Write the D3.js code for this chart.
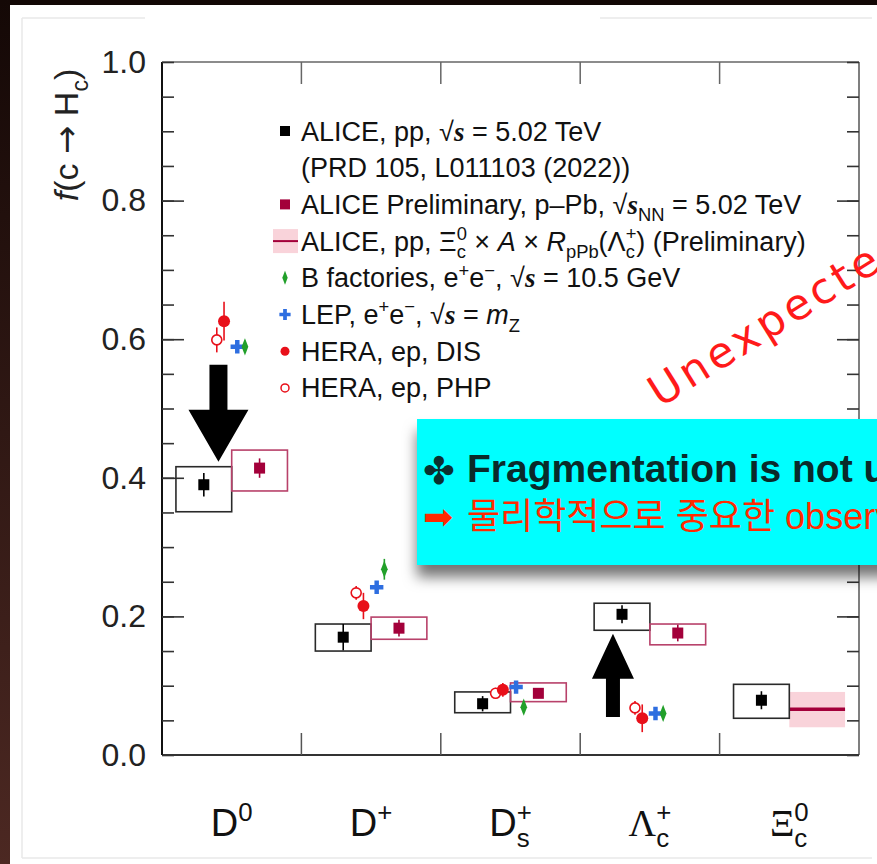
<!DOCTYPE html>
<html>
<head>
<meta charset="utf-8">
<script src="https://cdn.jsdelivr.net/npm/d3@7"></script>
<style>
  html, body { margin: 0; padding: 0; background: #fff; overflow: hidden; }
  svg { display: block; }
</style>
</head>
<body>
<svg id="chart" width="877" height="864"></svg>
<script>
// ---- data: charm fragmentation fractions f(c -> Hc) ----
const categories = ["D0", "D+", "Ds+", "Λc+", "Ξc0"];
const catBase = ["D", "D", "D", "Λ", "Ξ"];
const catSup  = ["0", "+", "+", "+", "0"];
const catSub  = ["", "", "s", "c", "c"];

// ALICE, pp, √s = 5.02 TeV
const alicePP       = [0.390, 0.170, 0.074, 0.203, 0.079];
const alicePPStat   = [0.017, 0.019, 0.011, 0.013, 0.013];
const alicePPSystLo = [0.351, 0.150, 0.061, 0.180, 0.053];
const alicePPSystHi = [0.416, 0.189, 0.091, 0.219, 0.102];

// ALICE Preliminary, p–Pb, √sNN = 5.02 TeV
const pPbCats     = ["D0", "D+", "Ds+", "Λc+"];
const alicePPb       = [0.414, 0.183, 0.089, 0.176];
const alicePPbStat   = [0.014, 0.012, 0.007, 0.012];
const alicePPbSystLo = [0.381, 0.167, 0.077, 0.159];
const alicePPbSystHi = [0.440, 0.199, 0.104, 0.189];

// ALICE, pp, Ξc0 × A × RpPb(Λc+) (Preliminary)
const xiScaledCats = ["Ξc0"];
const xiScaled     = [0.066];
const xiScaledLo   = [0.040];
const xiScaledHi   = [0.091];

// e+e- and ep measurements
const otherCats  = ["D0", "D+", "Ds+", "Λc+"];
const heraDIS    = [0.626, 0.215, 0.094, 0.053];
const heraDISErr = [0.028, 0.019, 0.010, 0.020];
const heraPHP    = [0.599, 0.234, 0.089, 0.068];
const heraPHPErr = [0.018, 0.010, 0.008, 0.010];
const lep        = [0.589, 0.242, 0.098, 0.060];
const lepErr     = [0.008, 0.008, 0.007, 0.005];
const bFact      = [0.589, 0.268, 0.069, 0.060];
const bFactErr   = [0.009, 0.015, 0.008, 0.004];

// annotation arrows (category, from, to)
const arrowCats = ["D0", "Λc+"];
const arrowFrom = [0.563, 0.055];
const arrowTo   = [0.423, 0.175];

const yTicks = [0.0, 0.2, 0.4, 0.6, 0.8, 1.0];
const yMinorTicks = d3.range(0, 1.0001, 0.05);

// ---- layout ----
const W = 877, H = 864;
const svg = d3.select("#chart");
const FONT = "'Liberation Sans', Arial, Helvetica, sans-serif";
const SERIF = "'Liberation Serif', 'Times New Roman', serif";

const x = d3.scaleBand().domain(categories).range([162, 859]);
const y = d3.scaleLinear().domain([0, 1]).range([755, 62]);
const bw = x.bandwidth();
const cx = c => x(c) + bw / 2;

const defs = svg.append("defs");
const edgeGrad = defs.append("linearGradient").attr("id", "edge")
  .attr("x1", 0).attr("y1", 0).attr("x2", 0).attr("y2", 1);
edgeGrad.append("stop").attr("offset", "0%").attr("stop-color", "#140806");
edgeGrad.append("stop").attr("offset", "100%").attr("stop-color", "#4c2822");

const shadow = defs.append("filter").attr("id", "boxShadow")
  .attr("x", "-20%").attr("y", "-20%").attr("width", "140%").attr("height", "160%");
shadow.append("feDropShadow").attr("dx", 0).attr("dy", 12)
  .attr("stdDeviation", 7).attr("flood-color", "#000").attr("flood-opacity", 0.55);

// slide background and its frame
svg.append("rect").attr("width", W).attr("height", H).attr("fill", "#fff");
svg.append("rect").attr("x", 0).attr("y", 0).attr("width", W).attr("height", 5).attr("fill", "#120705");
svg.append("rect").attr("x", 0).attr("y", 0).attr("width", 10).attr("height", H).attr("fill", "url(#edge)");
const faint = svg.append("g").attr("stroke", "#e9e9e9").attr("stroke-width", 1.5).attr("fill", "none");
faint.append("line").attr("x1", 22).attr("y1", 18).attr("x2", 22).attr("y2", 858);
faint.append("line").attr("x1", 22).attr("y1", 858).attr("x2", 872).attr("y2", 858);
faint.append("line").attr("x1", 22).attr("y1", 18).attr("x2", 145).attr("y2", 18);
faint.append("line").attr("x1", 600).attr("y1", 18).attr("x2", 872).attr("y2", 18);

// ---- rich text helper (sub/superscripts, italics) ----
function rich(sel, parts, size) {
  let shift = 0, pendingDx = 0;
  const small = size * 0.68;
  const subT = size * 0.28, supT = -size * 0.40;
  parts.forEach(p => {
    const k = p[0];
    if (k === "subsup") {
      const a = sel.append("tspan").attr("font-size", small).attr("dy", subT - shift).text(p[1]);
      if (pendingDx) a.attr("dx", pendingDx);
      const wa = a.node().getComputedTextLength();
      const b = sel.append("tspan").attr("font-size", small).attr("dx", -wa).attr("dy", supT - subT).text(p[2]);
      const wb = b.node().getComputedTextLength();
      pendingDx = Math.max(0, wa - wb);
      shift = supT;
      return;
    }
    const t = sel.append("tspan").text(p[1]);
    let target = 0;
    if (k === "sub") { target = subT; t.attr("font-size", small); }
    else if (k === "sup") { target = supT; t.attr("font-size", small); }
    else if (k === "i") { t.attr("font-style", "italic"); }
    else if (k === "si") { t.attr("font-style", "italic").attr("font-weight", "bold").attr("font-family", SERIF); }
    else if (k === "serif") { t.attr("font-family", SERIF); }
    else if (k === "sym") { t.attr("font-family", "'DejaVu Sans', sans-serif"); }
    if (target - shift !== 0) t.attr("dy", target - shift);
    if (pendingDx) { t.attr("dx", pendingDx); pendingDx = 0; }
    shift = target;
  });
}

// ---- plot frame and ticks ----
const plot = svg.append("g");
const frame = plot.append("g").attr("fill", "none");
frame.append("line").attr("x1", 162).attr("y1", y(1)).attr("x2", 859).attr("y2", y(1)).attr("stroke", "#666").attr("stroke-width", 1.5);
frame.append("line").attr("x1", 859).attr("y1", y(1)).attr("x2", 859).attr("y2", y(0)).attr("stroke", "#555").attr("stroke-width", 1.5);
frame.append("line").attr("x1", 162).attr("y1", y(0)).attr("x2", 859).attr("y2", y(0)).attr("stroke", "#333").attr("stroke-width", 1.8);
frame.append("line").attr("x1", 162).attr("y1", y(1)).attr("x2", 162).attr("y2", y(0)).attr("stroke", "#111").attr("stroke-width", 2);

// left axis: minor ticks, then labelled major ticks
const leftMinor = plot.append("g").attr("transform", "translate(162,0)")
  .call(d3.axisLeft(y).tickValues(yMinorTicks).tickSize(-12).tickFormat(""));
const leftMajor = plot.append("g").attr("transform", "translate(162,0)")
  .call(d3.axisLeft(y).tickValues(yTicks).tickSize(-22).tickPadding(16).tickFormat(d3.format(".1f")));
const rightMinor = plot.append("g").attr("transform", "translate(859,0)")
  .call(d3.axisRight(y).tickValues(yMinorTicks).tickSize(-12).tickFormat(""));
const rightMajor = plot.append("g").attr("transform", "translate(859,0)")
  .call(d3.axisRight(y).tickValues(yTicks).tickSize(-22).tickFormat(""));
[leftMinor, leftMajor, rightMinor, rightMajor].forEach(g => {
  g.select(".domain").remove();
  g.selectAll(".tick line").attr("stroke", "#333").attr("stroke-width", 1.6);
});
leftMajor.selectAll(".tick text")
  .attr("font-family", FONT).attr("font-size", 32).attr("fill", "#222");
leftMajor.selectAll(".tick").filter(d => d === 0 || d === 1).select("line").remove();
rightMajor.selectAll(".tick").filter(d => d === 0 || d === 1).select("line").remove();

// category boundary ticks on top and bottom
const bounds = categories.slice(1).map(c => x(c));
plot.append("g").selectAll("line").data(bounds).join("line")
  .attr("x1", d => d).attr("x2", d => d).attr("y1", y(1)).attr("y2", y(1) + 22)
  .attr("stroke", "#666").attr("stroke-width", 1.5);
plot.append("g").selectAll("line").data(bounds).join("line")
  .attr("x1", d => d).attr("x2", d => d).attr("y1", y(0)).attr("y2", y(0) - 22)
  .attr("stroke", "#555").attr("stroke-width", 1.5);

// y axis title
const yTitle = svg.append("text")
  .attr("transform", "translate(78,135) rotate(-90)")
  .attr("text-anchor", "middle").attr("font-family", FONT).attr("font-size", 34).attr("fill", "#222");
rich(yTitle, [["i", "f"], ["n", "(c "], ["sym", "\u2192"], ["n", " H"], ["sub", "c"], ["n", ")"]], 34);

// category labels
categories.forEach((c, i) => {
  const g = svg.append("g");
  const t = g.append("text").attr("x", 0).attr("y", 836)
    .attr("font-family", FONT).attr("font-size", 38).attr("fill", "#111");
  const parts = [[i >= 3 ? "serif" : "n", catBase[i]]];
  if (catSub[i]) parts.push(["subsup", catSub[i], catSup[i]]);
  else parts.push(["sup", catSup[i]]);
  rich(t, parts, 38);
  const bb = t.node().getBBox();
  g.attr("transform", `translate(${cx(c) - bb.width / 2},0)`);
});

// ---- systematic boxes ----
const marks = svg.append("g");
// Ξc0 × A × RpPb band
xiScaledCats.forEach((c, i) => {
  marks.append("rect")
    .attr("x", cx(c)).attr("width", bw * 0.4)
    .attr("y", y(xiScaledHi[i])).attr("height", y(xiScaledLo[i]) - y(xiScaledHi[i]))
    .attr("fill", "#f9d3da");
  marks.append("line")
    .attr("x1", cx(c)).attr("x2", cx(c) + bw * 0.4)
    .attr("y1", y(xiScaled[i])).attr("y2", y(xiScaled[i]))
    .attr("stroke", "#a3003a").attr("stroke-width", 3.5);
});
// pp boxes
categories.forEach((c, i) => {
  marks.append("rect")
    .attr("x", cx(c) - bw * 0.4).attr("width", bw * 0.4)
    .attr("y", y(alicePPSystHi[i])).attr("height", y(alicePPSystLo[i]) - y(alicePPSystHi[i]))
    .attr("fill", "none").attr("stroke", "#2a2a2a").attr("stroke-width", 1.6);
});
// p–Pb boxes
pPbCats.forEach((c, i) => {
  marks.append("rect")
    .attr("x", cx(c)).attr("width", bw * 0.4)
    .attr("y", y(alicePPbSystHi[i])).attr("height", y(alicePPbSystLo[i]) - y(alicePPbSystHi[i]))
    .attr("fill", "none").attr("stroke", "#b8416a").attr("stroke-width", 1.6);
});

// ---- points with error bars ----
function errBar(px, v, e, color) {
  marks.append("line").attr("x1", px).attr("x2", px)
    .attr("y1", y(v + e)).attr("y2", y(v - e))
    .attr("stroke", color).attr("stroke-width", 1.6);
}
const COL = { pp: "#000", pPb: "#a3003a", dis: "#e8101a", php: "#e8101a", lep: "#2e6ee0", bf: "#22a02a" };

categories.forEach((c, i) => {
  const px = cx(c) - bw * 0.2;
  errBar(px, alicePP[i], alicePPStat[i], COL.pp);
  marks.append("rect").attr("x", px - 5.5).attr("y", y(alicePP[i]) - 5.5)
    .attr("width", 11).attr("height", 11).attr("fill", COL.pp);
});
pPbCats.forEach((c, i) => {
  const px = cx(c) + bw * 0.2;
  errBar(px, alicePPb[i], alicePPbStat[i], COL.pPb);
  marks.append("rect").attr("x", px - 5.5).attr("y", y(alicePPb[i]) - 5.5)
    .attr("width", 11).attr("height", 11).attr("fill", COL.pPb);
});

const crossPath = d3.symbol(d3.symbolCross, 100)();
const diamondPath = d3.symbol(d3.symbolDiamond, 70)();

otherCats.forEach((c, i) => {
  // HERA PHP (open circle)
  let px = cx(c) - bw * 0.107;
  errBar(px, heraPHP[i], heraPHPErr[i], COL.php);
  marks.append("circle").attr("cx", px).attr("cy", y(heraPHP[i])).attr("r", 5)
    .attr("fill", "#fff").attr("stroke", COL.php).attr("stroke-width", 1.6);
  // HERA DIS (filled circle)
  px = cx(c) - bw * 0.055;
  errBar(px, heraDIS[i], heraDISErr[i], COL.dis);
  marks.append("circle").attr("cx", px).attr("cy", y(heraDIS[i])).attr("r", 6).attr("fill", COL.dis);
  // LEP (cross)
  px = cx(c) + bw * 0.04;
  errBar(px, lep[i], lepErr[i], COL.lep);
  marks.append("path").attr("d", crossPath)
    .attr("transform", `translate(${px},${y(lep[i])})`).attr("fill", COL.lep);
  // B factories (diamond)
  px = cx(c) + bw * 0.095;
  errBar(px, bFact[i], bFactErr[i], COL.bf);
  marks.append("path").attr("d", diamondPath)
    .attr("transform", `translate(${px},${y(bFact[i])}) scale(0.75,1.1)`).attr("fill", COL.bf);
});

// ---- big annotation arrows ----
const arrowStyle = [
  { dx: -0.095, shaft: 18, head: 60, headLen: 52 },
  { dx: -0.265, shaft: 14, head: 42, headLen: 45 }
];
arrowCats.forEach((c, i) => {
  const s = arrowStyle[i];
  const ax = cx(c) + bw * s.dx;
  const y0 = y(arrowFrom[i]), y1 = y(arrowTo[i]);
  const dir = Math.sign(y1 - y0);
  const yb = y1 - dir * s.headLen;
  const p = d3.path();
  p.moveTo(ax - s.shaft / 2, y0);
  p.lineTo(ax + s.shaft / 2, y0);
  p.lineTo(ax + s.shaft / 2, yb);
  p.lineTo(ax + s.head / 2, yb);
  p.lineTo(ax, y1);
  p.lineTo(ax - s.head / 2, yb);
  p.lineTo(ax - s.shaft / 2, yb);
  p.closePath();
  svg.append("path").attr("d", p.toString()).attr("fill", "#000");
});

// ---- legend ----
const legend = svg.append("g").attr("font-family", FONT).attr("font-size", 27).attr("fill", "#111");
const legY0 = 131, legStep = 36.7, legMx = 285, legTx = 301;
const legendRows = [
  { mark: "pp",  parts: [["n", "ALICE, pp, \u221A"], ["si", "s"], ["n", " = 5.02 TeV"]] },
  { mark: null,  parts: [["n", "(PRD 105, L011103 (2022))"]] },
  { mark: "pPb", parts: [["n", "ALICE Preliminary, p\u2013Pb, \u221A"], ["si", "s"], ["sub", "NN"], ["n", " = 5.02 TeV"]] },
  { mark: "xi",  parts: [["n", "ALICE, pp, \u039E"], ["subsup", "c", "0"], ["n", " \u00D7 "], ["i", "A"], ["n", " \u00D7 "], ["i", "R"], ["sub", "pPb"], ["n", "(\u039B"], ["subsup", "c", "+"], ["n", ") (Preliminary)"]] },
  { mark: "bf",  parts: [["n", "B factories, e"], ["sup", "+"], ["n", "e"], ["sup", "\u2212"], ["n", ", \u221A"], ["si", "s"], ["n", " = 10.5 GeV"]] },
  { mark: "lep", parts: [["n", "LEP, e"], ["sup", "+"], ["n", "e"], ["sup", "\u2212"], ["n", ", \u221A"], ["si", "s"], ["n", " = "], ["i", "m"], ["sub", "Z"]] },
  { mark: "dis", parts: [["n", "HERA, ep, DIS"]] },
  { mark: "php", parts: [["n", "HERA, ep, PHP"]] }
];
legendRows.forEach((row, i) => {
  const cy = legY0 + i * legStep;
  const t = legend.append("text").attr("x", legTx).attr("y", cy + 9.5);
  rich(t, row.parts, 27);
  const m = row.mark;
  if (m === "pp" || m === "pPb") {
    legend.append("rect").attr("x", legMx - 5).attr("y", cy - 5).attr("width", 10).attr("height", 10).attr("fill", COL[m]);
  } else if (m === "xi") {
    legend.append("rect").attr("x", legMx - 12).attr("y", cy - 12).attr("width", 25).attr("height", 24).attr("fill", "#f9d3da");
    legend.append("line").attr("x1", legMx - 12).attr("x2", legMx + 13).attr("y1", cy).attr("y2", cy)
      .attr("stroke", "#a3003a").attr("stroke-width", 2);
  } else if (m === "bf") {
    legend.append("path").attr("d", diamondPath).attr("transform", `translate(${legMx},${cy}) scale(0.6,0.9)`).attr("fill", COL.bf);
  } else if (m === "lep") {
    legend.append("path").attr("d", d3.symbol(d3.symbolCross, 70)()).attr("transform", `translate(${legMx},${cy})`).attr("fill", COL.lep);
  } else if (m === "dis") {
    legend.append("circle").attr("cx", legMx).attr("cy", cy).attr("r", 4.5).attr("fill", COL.dis);
  } else if (m === "php") {
    legend.append("circle").attr("cx", legMx).attr("cy", cy).attr("r", 4).attr("fill", "#fff").attr("stroke", COL.php).attr("stroke-width", 1.5);
  }
});

// ---- handwritten remark ----
svg.append("text")
  .attr("transform", "translate(660,408) rotate(-32)")
  .attr("font-family", "'Comic Sans MS', 'DejaVu Sans', sans-serif")
  .attr("font-size", 43).attr("letter-spacing", 4).attr("fill", "#ff1a1a")
  .text("Unexpected!");

// ---- highlighted message box ----
const box = svg.append("g");
box.append("rect").attr("x", 417).attr("y", 419).attr("width", 520).attr("height", 146)
  .attr("fill", "#00ffff").attr("filter", "url(#boxShadow)");
box.append("text").attr("x", 423).attr("y", 484)
  .attr("font-family", "'DejaVu Sans', sans-serif").attr("font-size", 38).attr("fill", "#0b3030")
  .text("\u2724");
box.append("text").attr("x", 467).attr("y", 482)
  .attr("font-family", FONT).attr("font-weight", "bold").attr("font-size", 39).attr("fill", "#0a2a2a")
  .text("Fragmentation is not universal");
box.append("text").attr("x", 423).attr("y", 529)
  .attr("font-family", "'DejaVu Sans', sans-serif").attr("font-size", 36).attr("fill", "#ff2a00")
  .text("\u27A1");
box.append("text").attr("x", 467).attr("y", 529)
  .attr("font-family", "'Liberation Sans', 'Noto Sans CJK KR', sans-serif").attr("font-size", 36).attr("fill", "#ff2a00")
  .text("물리학적으로 중요한 observable");
</script>
</body>
</html>
